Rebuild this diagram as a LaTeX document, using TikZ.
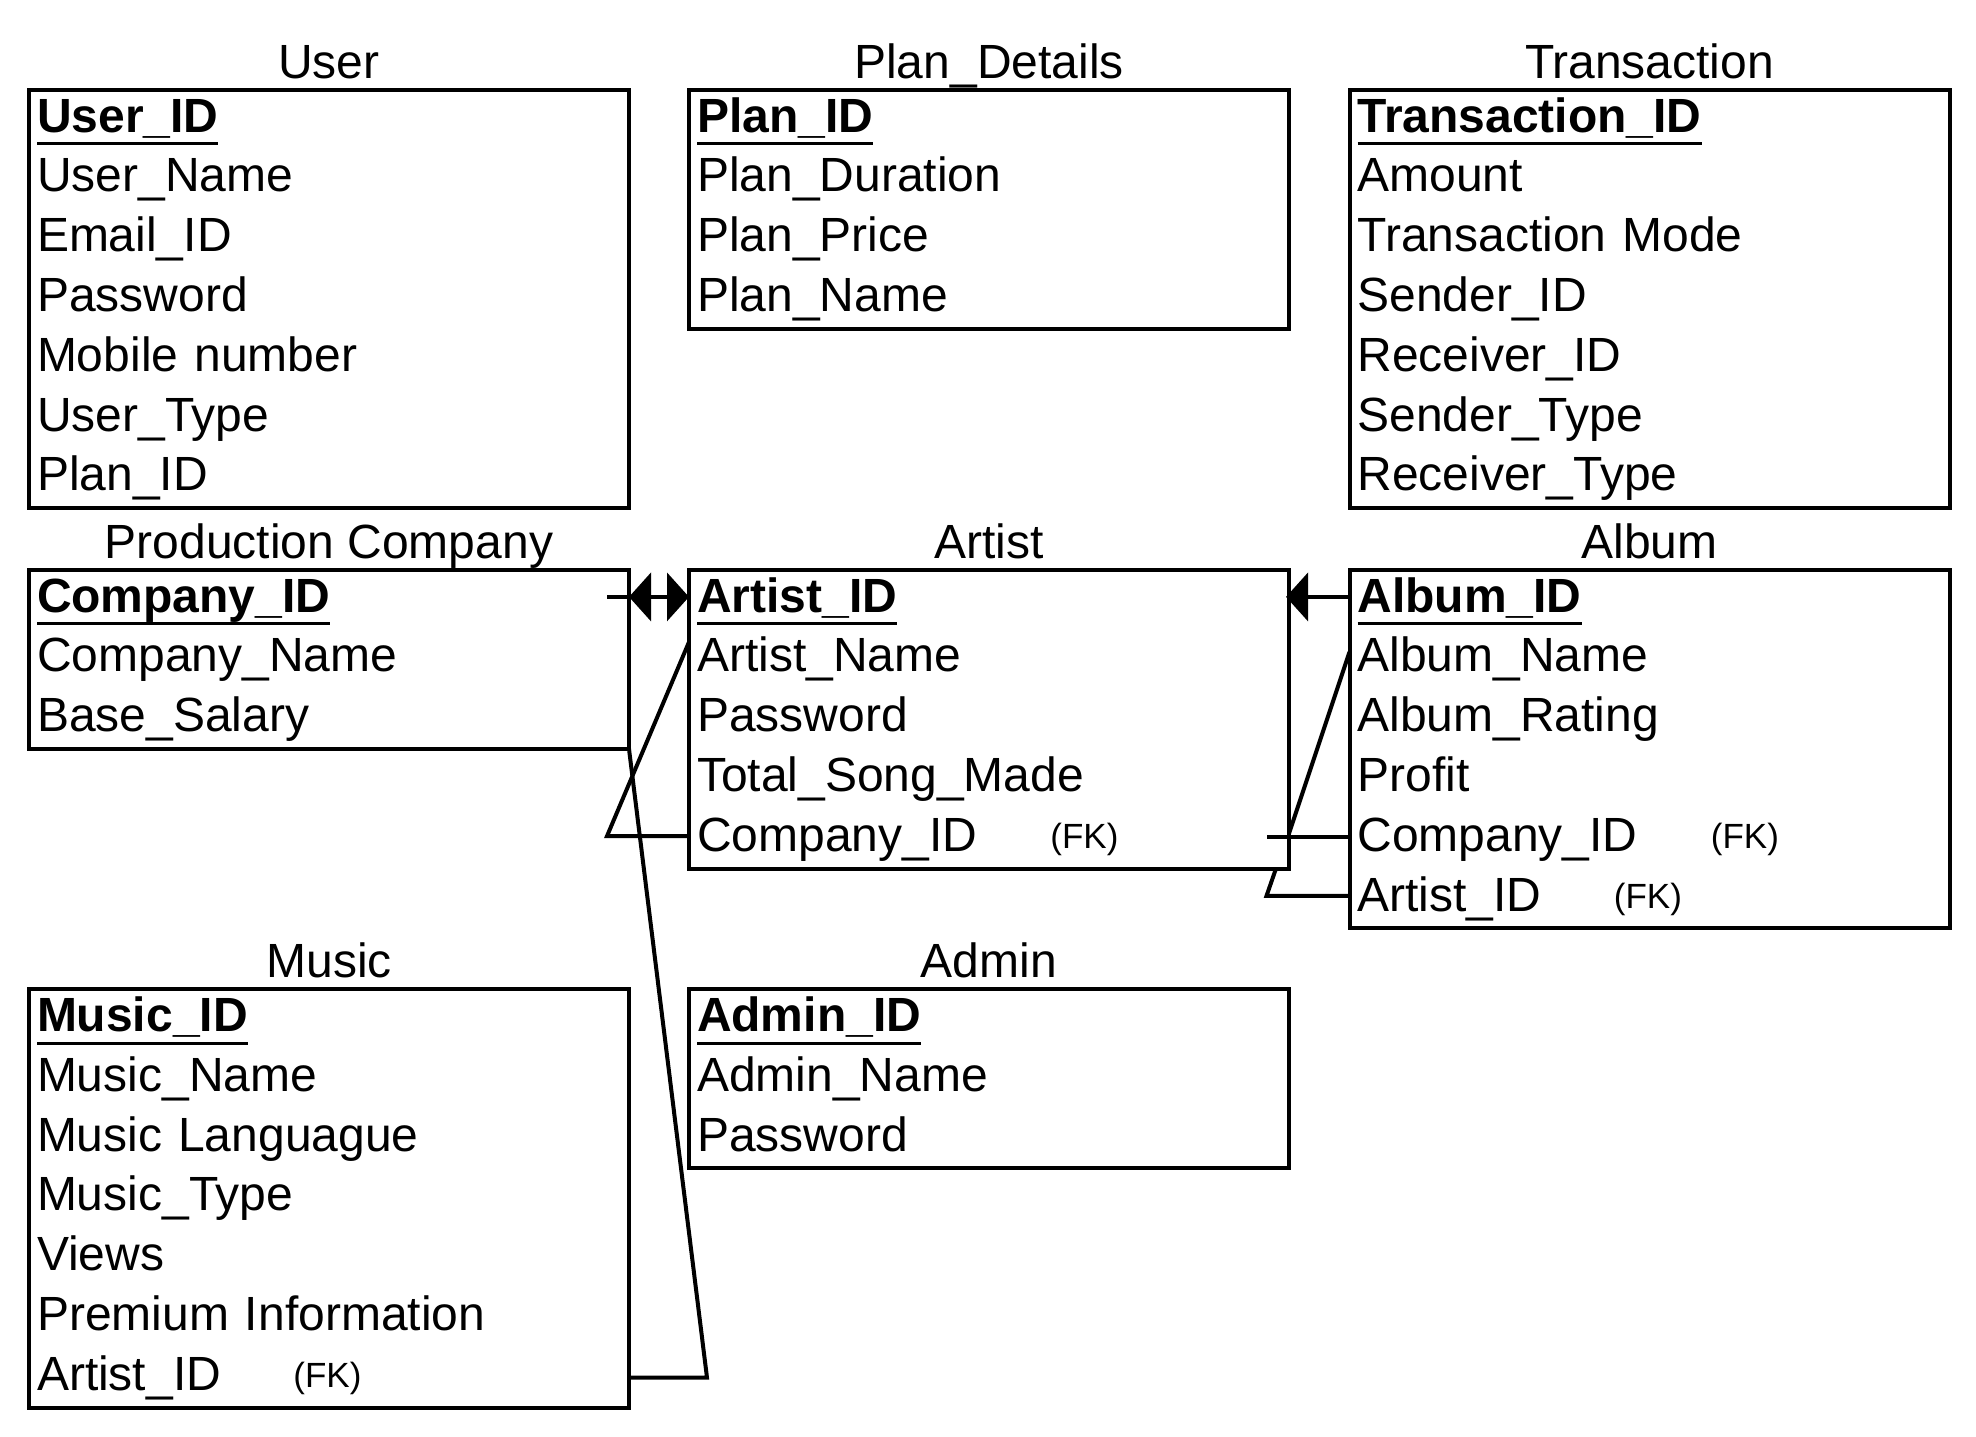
\documentclass[tikz,border=0pt]{standalone}
\usepackage{fontspec}
\setmainfont{Liberation Sans}
\usetikzlibrary{calc,arrows.meta}
\newcommand\mainsize{\fontsize{24pt}{28pt}\selectfont}
\newcommand\fksize{\fontsize{17.5pt}{20pt}\selectfont}
\newcommand\pkey[1]{\setbox0\hbox{\textbf{#1}}\rlap{\rule[-6.5pt]{\wd0}{1.5pt}}\box0}
\newcommand\rowat[4]{\node[rowbox] (#1) at ($(#2.north west)+(0,#3)$) {#4};}
\tikzset{
  tbl/.style={draw, line width=2pt, rectangle, inner sep=0pt, outer sep=0pt, anchor=north west, minimum width=300pt},
  rowbox/.style={rectangle, inner xsep=4pt, inner ysep=0pt, outer sep=0pt, minimum height=29.9pt, text width=292pt, align=left, text height=18.5pt, text depth=5.9pt, anchor=north west, font=\mainsize},
  ttl/.style={anchor=base, inner sep=0pt, font=\mainsize},
  fk/.style={anchor=base west, inner sep=0pt, font=\fksize},
  conn/.style={line width=2pt, >={Triangle[length=11pt,width=24pt]}}
}
\begin{document}
\begin{tikzpicture}[x=0.5pt, y=-0.5pt]
\useasboundingbox[fill=white] (0,0) rectangle (1976,1436);

% tables
\node[tbl, minimum height=209.3pt] (user) at (29,89.5) {};
\node[tbl, minimum height=119.6pt] (plan) at (689,89.5) {};
\node[tbl, minimum height=209.3pt] (trans) at (1349.5,89.5) {};
\node[tbl, minimum height=89.7pt] (pc) at (29,569.5) {};
\node[tbl, minimum height=149.5pt] (art) at (689,569.5) {};
\node[tbl, minimum height=179.4pt] (alb) at (1349.5,569.5) {};
\node[tbl, minimum height=209.3pt] (mus) at (29,989) {};
\node[tbl, minimum height=89.7pt] (adm) at (689,989) {};

% titles
\node[ttl] (user-t) at ($(user.north)+(0,-11.5)$) {User};
\node[ttl] (plan-t) at ($(plan.north)+(0,-11.5)$) {Plan\_Details};
\node[ttl] (trans-t) at ($(trans.north)+(0,-11.5)$) {Transaction};
\node[ttl] (pc-t) at ($(pc.north)+(0,-11.5)$) {Production Company};
\node[ttl] (art-t) at ($(art.north)+(0,-11.5)$) {Artist};
\node[ttl] (alb-t) at ($(alb.north)+(0,-11.5)$) {Album};
\node[ttl] (mus-t) at ($(mus.north)+(0,-11.5)$) {Music};
\node[ttl] (adm-t) at ($(adm.north)+(0,-11.5)$) {Admin};

% User
\rowat{user-r0}{user}{0}{\pkey{User\_ID}}
\rowat{user-r1}{user}{59.8}{User\_Name}
\rowat{user-r2}{user}{119.6}{Email\_ID}
\rowat{user-r3}{user}{179.4}{Password}
\rowat{user-r4}{user}{239.2}{Mobile number}
\rowat{user-r5}{user}{299}{User\_Type}
\rowat{user-r6}{user}{358.8}{Plan\_ID}

% Plan_Details
\rowat{plan-r0}{plan}{0}{\pkey{Plan\_ID}}
\rowat{plan-r1}{plan}{59.8}{Plan\_Duration}
\rowat{plan-r2}{plan}{119.6}{Plan\_Price}
\rowat{plan-r3}{plan}{179.4}{Plan\_Name}

% Transaction
\rowat{trans-r0}{trans}{0}{\pkey{Transaction\_ID}}
\rowat{trans-r1}{trans}{59.8}{Amount}
\rowat{trans-r2}{trans}{119.6}{Transaction Mode}
\rowat{trans-r3}{trans}{179.4}{Sender\_ID}
\rowat{trans-r4}{trans}{239.2}{Receiver\_ID}
\rowat{trans-r5}{trans}{299}{Sender\_Type}
\rowat{trans-r6}{trans}{358.8}{Receiver\_Type}

% Production Company
\rowat{pc-r0}{pc}{0}{\pkey{Company\_ID}}
\rowat{pc-r1}{pc}{59.8}{Company\_Name}
\rowat{pc-r2}{pc}{119.6}{Base\_Salary}

% Artist
\rowat{art-r0}{art}{0}{\pkey{Artist\_ID}}
\rowat{art-r1}{art}{59.8}{Artist\_Name}
\rowat{art-r2}{art}{119.6}{Password}
\rowat{art-r3}{art}{179.4}{Total\_Song\_Made}
\rowat{art-r4}{art}{239.2}{Company\_ID}
\node[fk] (art-fk4) at ($(art-r4.base west)+(361,-2.5)$) {(FK)};

% Album
\rowat{alb-r0}{alb}{0}{\pkey{Album\_ID}}
\rowat{alb-r1}{alb}{59.8}{Album\_Name}
\rowat{alb-r2}{alb}{119.6}{Album\_Rating}
\rowat{alb-r3}{alb}{179.4}{Profit}
\rowat{alb-r4}{alb}{239.2}{Company\_ID}
\rowat{alb-r5}{alb}{299}{Artist\_ID}
\node[fk] (alb-fk4) at ($(alb-r4.base west)+(361,-2.5)$) {(FK)};
\node[fk] (alb-fk5) at ($(alb-r5.base west)+(264,-2.5)$) {(FK)};

% Music
\rowat{mus-r0}{mus}{0}{\pkey{Music\_ID}}
\rowat{mus-r1}{mus}{59.8}{Music\_Name}
\rowat{mus-r2}{mus}{119.6}{Music Languague}
\rowat{mus-r3}{mus}{179.4}{Music\_Type}
\rowat{mus-r4}{mus}{239.2}{Views}
\rowat{mus-r5}{mus}{299}{Premium Information}
\rowat{mus-r6}{mus}{358.8}{Artist\_ID}
\node[fk] (mus-fk6) at ($(mus-r6.base west)+(264,-2.5)$) {(FK)};

% Admin
\rowat{adm-r0}{adm}{0}{\pkey{Admin\_ID}}
\rowat{adm-r1}{adm}{59.8}{Admin\_Name}
\rowat{adm-r2}{adm}{119.6}{Password}

% connectors
\draw[conn] ($(pc-r0.east)+(-22,-2.5)$) -- ($(pc-r0.east)+(0,-2.5)$);
\draw[conn,<->] ($(pc-r0.east)+(0,-2.5)$) -- ($(art-r0.west)+(0,-2.5)$);
\draw[conn] ($(art-r4.west)+(0,-2.5)$) -- ++(-82,0) -- ($(art.north west)+(0,72.5)$);
\draw[conn] (mus-r6.east) -- ++(78,0) -- (pc.south east);
\draw[conn,->] ($(alb-r0.west)+(0,-2.5)$) -- ($(art-r0.east)+(-3,-2.5)$);
\draw[conn] ($(alb-r4.west)+(0,-1.5)$) -- ++(-83,0);
\draw[conn] ($(art.north east)+(0,264)$) -- ($(alb.north west)+(0,82.5)$);
\draw[conn] ($(alb-r5.west)+(0,-2.5)$) -- ++(-83,0) -- ($(art.south east)+(-13,0)$);
\end{tikzpicture}
\end{document}
